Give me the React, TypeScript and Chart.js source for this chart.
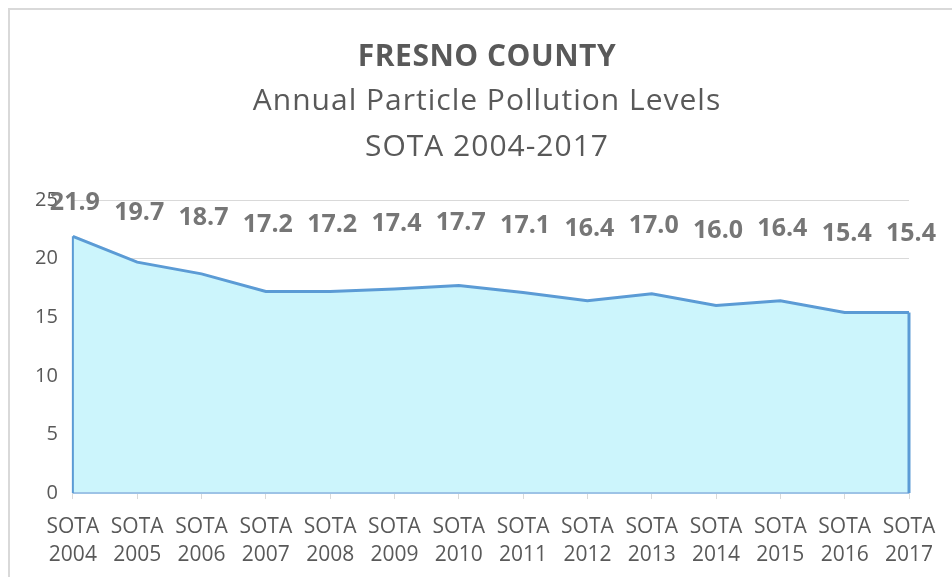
import React, { useEffect, useRef } from "react";
import { Chart, registerables } from "chart.js";

Chart.register(...registerables);

const categories = ["2004", "2005", "2006", "2007", "2008", "2009", "2010", "2011", "2012", "2013", "2014", "2015", "2016", "2017"];
const categoryPrefix = "SOTA";
const values = [21.9, 19.7, 18.7, 17.2, 17.2, 17.4, 17.7, 17.1, 16.4, 17.0, 16.0, 16.4, 15.4, 15.4];
const yMin = 0;
const yMax = 25;
const yStep = 5;
const titleMain = "FRESNO COUNTY";
const titleSub = ["Annual Particle Pollution Levels", "SOTA 2004-2017"];

const FONT = "'Open Sans', Lato, sans-serif";
const LINE = "#5b9bd5";
const FILL = "rgb(204,245,252)";
const TEXT = "#595959";
const LABEL = "#767676";
const GRID = "#d9d9d9";

// title block (the frame of the original chart is wider than the page, so its centre sits right of the plot centre)
const TITLE_CENTER_X = 487;
const TITLE_LINE_Y = [57, 101, 147];

const titleBlock = {
  id: "titleBlock",
  afterDraw(chart: any) {
    const ctx = chart.ctx;
    ctx.save();
    ctx.fillStyle = TEXT;
    ctx.textAlign = "center";
    ctx.textBaseline = "middle";
    try {
      (ctx as any).letterSpacing = "0.5px";
    } catch (e) {}
    ctx.font = `bold 30px ${FONT}`;
    ctx.fillText(titleMain, TITLE_CENTER_X, TITLE_LINE_Y[0]);
    try {
      (ctx as any).letterSpacing = "1px";
    } catch (e) {}
    ctx.font = `30px ${FONT}`;
    titleSub.forEach((t, i) => ctx.fillText(t, TITLE_CENTER_X, TITLE_LINE_Y[i + 1]));
    ctx.restore();
  },
};

const areaEdgesAndLabels = {
  id: "areaEdgesAndLabels",
  afterDatasetsDraw(chart: any) {
    const ctx = chart.ctx;
    const meta = chart.getDatasetMeta(0);
    const pts = meta.data;
    if (!pts.length) return;
    const base = chart.scales.y.getPixelForValue(0);
    const first = pts[0];
    const last = pts[pts.length - 1];
    ctx.save();
    ctx.lineCap = "butt";
    ctx.strokeStyle = "#9dc3e6";
    ctx.lineWidth = 2;
    ctx.beginPath();
    ctx.moveTo(first.x, base);
    ctx.lineTo(last.x, base);
    ctx.stroke();
    ctx.strokeStyle = LINE;
    ctx.lineWidth = 2;
    ctx.beginPath();
    ctx.moveTo(first.x, base);
    ctx.lineTo(first.x, first.y);
    ctx.stroke();
    ctx.lineWidth = 3;
    ctx.beginPath();
    ctx.moveTo(last.x, base);
    ctx.lineTo(last.x, last.y);
    ctx.stroke();
    // data labels, positioned through a hidden label scale
    const ls = chart.scales.yLabel;
    ctx.fillStyle = LABEL;
    ctx.font = `bold 25px ${FONT}`;
    ctx.textAlign = "center";
    ctx.textBaseline = "middle";
    values.forEach((v, i) => {
      const p = pts[i];
      ctx.fillText(v.toFixed(1), p.x + 2, ls.getPixelForValue(v));
    });
    ctx.restore();
  },
};

export default function App() {
  const ref = useRef<HTMLCanvasElement | null>(null);
  useEffect(() => {
    if (!ref.current) return;
    const chart = new Chart(ref.current, {
      type: "line",
      data: {
        labels: categories,
        datasets: [
          {
            data: values,
            borderColor: LINE,
            borderWidth: 3,
            backgroundColor: FILL,
            fill: "origin",
            pointRadius: 0,
            tension: 0,
          },
        ],
      },
      options: {
        responsive: false,
        animation: false,
        layout: { padding: { left: 20, right: 43, top: 200, bottom: -6 } },
        plugins: {
          legend: { display: false },
          tooltip: { enabled: false },
          title: { display: false },
          subtitle: { display: false },
        },
        scales: {
          x: {
            offset: false,
            grid: { display: true, drawOnChartArea: false, drawTicks: true, tickLength: 6, color: GRID },
            border: { display: true, color: GRID, width: 1 },
            ticks: {
              color: TEXT,
              font: { family: FONT, size: 21, lineHeight: 1.38 },
              padding: 13,
              maxRotation: 0,
              autoSkip: false,
              callback: (_v: any, i: number) => [categoryPrefix, categories[i]],
            },
          },
          y: {
            min: yMin,
            max: yMax,
            grid: { color: GRID, drawTicks: false },
            border: { display: false },
            ticks: {
              stepSize: yStep,
              color: TEXT,
              font: { family: FONT, size: 20 },
              padding: 15,
            },
          },
          yLabel: {
            display: false,
            min: -39.2,
            max: 22.5,
          },
        },
      },
      plugins: [areaEdgesAndLabels, titleBlock],
    });
    return () => chart.destroy();
  }, []);
  return (
    <div style={{ position: "fixed", left: 0, top: 0, width: 952, height: 577, background: "#fff", overflow: "hidden" }}>
      <div
        style={{
          position: "absolute",
          left: 8,
          top: 8,
          width: 2000,
          height: 2000,
          borderLeft: "2px solid #d9d9d9",
          borderTop: "2px solid #d9d9d9",
        }}
      />
      <canvas ref={ref} width={952} height={577} style={{ position: "absolute", left: 0, top: 0, display: "block" }} />
    </div>
  );
}
